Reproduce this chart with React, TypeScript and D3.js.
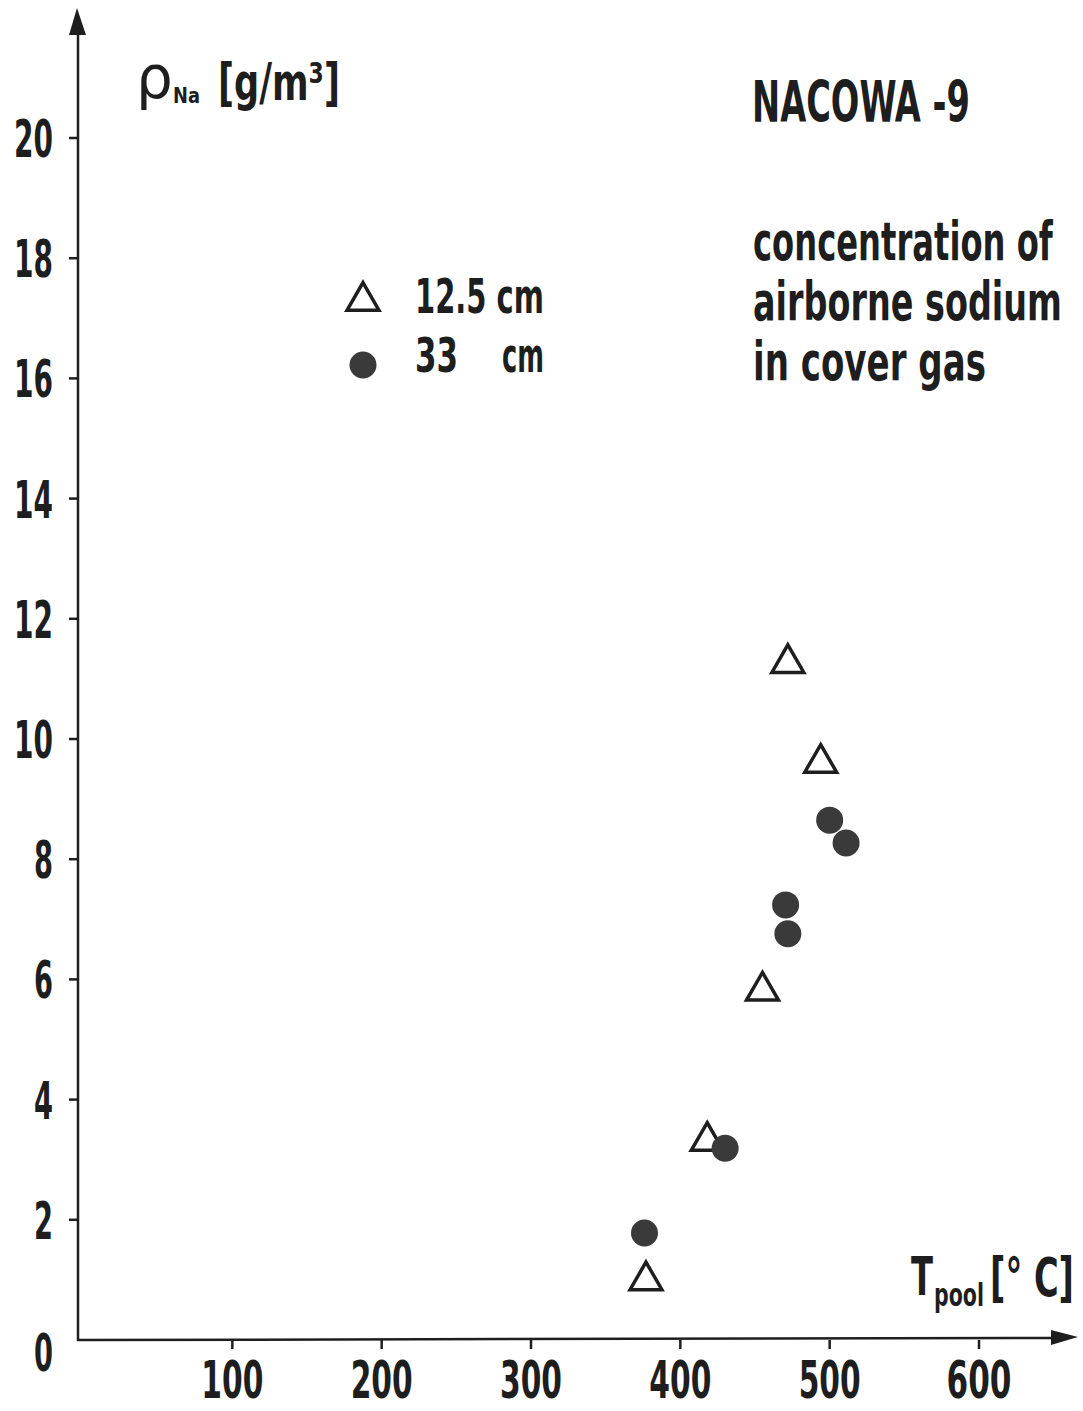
import React, { useEffect, useRef } from 'react';
import * as d3 from 'd3';

// values
const yTicks = [0, 2, 4, 6, 8, 10, 12, 14, 16, 18, 20];
const xTicks = [100, 200, 300, 400, 500, 600];

const tempTri = [377, 418, 455, 472, 494]; // 12.5 cm
const rhoTri = [0.99, 3.31, 5.81, 11.26, 9.6];

const tempDot = [376, 430, 470.5, 472, 500, 511]; // 33 cm
const rhoDot = [1.78, 3.19, 7.24, 6.76, 8.65, 8.27];

const notes = ['concentration of', 'airborne sodium', 'in cover gas'];

const FONT = '"DejaVu Sans Condensed", "DejaVu Sans", sans-serif';
const INK = '#1e1e1e';

// squeeze a text horizontally so it covers `width` px starting at its anchor
function fit(t: any, x: number, y: number, width: number, anchor = 'start') {
  const n = t.node().getComputedTextLength() || 1;
  const s = width / n;
  const dx = anchor === 'end' ? -width : anchor === 'middle' ? -width / 2 : 0;
  t.attr('x', 0).attr('y', 0).attr('text-anchor', 'start')
    .attr('transform', `translate(${x + dx},${y}) scale(${s},1)`);
  return t;
}

const App = () => {
  const svgRef = useRef<SVGSVGElement>(null);

  useEffect(() => {
    const W = 1083, H = 1411;
    const svg = d3.select(svgRef.current);
    svg.selectAll('*').remove();
    svg.attr('width', W).attr('height', H).style('background', 'white');

    const x = d3.scaleLinear().domain([0, 600]).range([83, 979]);
    const y = d3.scaleLinear().domain([0, 20]).range([1340, 138]);
    const axisX = 78, axisY = 1340;

    const g = svg.append('g').attr('font-family', FONT).attr('font-weight', 'bold').attr('fill', INK);
    const label = (str: string, size: number) => g.append('text').attr('font-size', size).text(str);

    // axes lines + arrows
    g.append('line').attr('x1', axisX).attr('y1', axisY + 1).attr('x2', axisX).attr('y2', 30)
      .attr('stroke', INK).attr('stroke-width', 2.5);
    g.append('path').attr('d', `M${axisX - 1},8 L${axisX - 9},35 L${axisX + 8},35 Z`).attr('fill', INK);
    g.append('line').attr('x1', axisX - 1).attr('y1', axisY).attr('x2', 1055).attr('y2', axisY - 2)
      .attr('stroke', INK).attr('stroke-width', 2.5);
    g.append('path').attr('d', `M1078,${axisY - 3} L1051,${axisY - 10} L1051,${axisY + 5} Z`).attr('fill', INK);

    // y ticks
    yTicks.forEach(d => {
      if (d > 0) {
        g.append('line').attr('x1', axisX - 9).attr('x2', axisX).attr('y1', y(d)).attr('y2', y(d))
          .attr('stroke', INK).attr('stroke-width', 2.5);
      }
      const s = String(d);
      fit(label(s, 52), 53, y(d) + (d === 0 ? 12 : 0) + 19, s.length * 20 - 1, 'end');
    });

    // x ticks
    xTicks.forEach(d => {
      g.append('line').attr('x1', x(d)).attr('x2', x(d)).attr('y1', axisY).attr('y2', axisY + 9)
        .attr('stroke', INK).attr('stroke-width', 2.5);
      const big = d === 600;
      fit(label(String(d), big ? 52 : 51), x(d), axisY + 58, big ? 65 : 62, 'middle');
    });

    // markers
    const tri = d3.symbol().type(d3.symbolTriangle).size(440);
    g.selectAll('.tri').data(tempTri).enter().append('path')
      .attr('d', tri)
      .attr('transform', (d, i) => `translate(${x(d)},${y(rhoTri[i])})`)
      .attr('fill', 'none').attr('stroke', INK).attr('stroke-width', 3.5);
    g.selectAll('.dot').data(tempDot).enter().append('circle')
      .attr('cx', d => x(d)).attr('cy', (d, i) => y(rhoDot[i])).attr('r', 13.5)
      .attr('fill', '#3a3a3a');

    // legend
    g.append('path').attr('d', tri).attr('transform', 'translate(363,301)')
      .attr('fill', 'none').attr('stroke', INK).attr('stroke-width', 3.5);
    g.append('circle').attr('cx', 363).attr('cy', 365).attr('r', 13.5).attr('fill', '#3a3a3a');
    fit(label('12.5 cm', 48), 415, 313, 129);
    fit(label('33', 48), 415, 372, 43);
    fit(label('cm', 48), 502, 372, 42);

    // y-axis label
    g.append('text').attr('x', 136).attr('y', 98).attr('font-size', 58)
      .attr('font-family', '"DejaVu Sans", sans-serif').attr('font-weight', 'normal').text('ρ');
    fit(label('Na', 22), 173, 103, 27);
    fit(label('[g/m³]', 52), 218, 100, 122);

    // title and notes
    fit(label('NACOWA -9', 57), 752, 122, 218);
    const noteLen = [300, 309, 233];
    notes.forEach((d, i) => fit(label(d, 54), 753, 260 + i * 60, noteLen[i]));

    // x-axis label
    fit(label('T', 54), 911, 1295, 22);
    fit(label('pool', 32), 934, 1306, 50);
    fit(label('[° C]', 54), 990, 1296, 84);
  }, []);

  return <svg ref={svgRef} style={{ position: 'absolute', left: 0, top: 0 }} />;
};

export default App;
